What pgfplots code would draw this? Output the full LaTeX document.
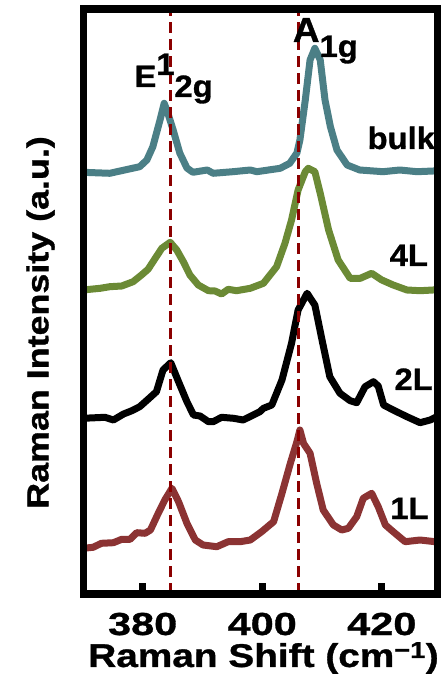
\documentclass[border=0pt]{standalone}
\usepackage{fontspec}
\setmainfont{Liberation Sans}[FakeStretch=1.18, BoldFeatures={FakeBold=1}]
\newfontfamily\annfont{Liberation Sans}[FakeStretch=1.06, BoldFeatures={FakeBold=1}]
\newfontfamily\tickfont{Liberation Sans}[FakeStretch=1.3, BoldFeatures={FakeBold=1}]
\usepackage{pgfplots}
\pgfplotsset{compat=1.18}
\definecolor{cbulk}{HTML}{4B7F86}
\definecolor{cfour}{HTML}{6B8A35}
\definecolor{cone}{HTML}{8B3333}
\definecolor{cdash}{HTML}{8B0000}
\newcommand{\tk}[1]{{\tickfont\fontsize{32}{38}\selectfont\bfseries #1}}
\begin{document}
\begin{tikzpicture}
\begin{axis}[
  scale only axis, width=354.5bp, height=585.2bp,
  xmin=370.1, xmax=429.4, ymin=1, ymax=586.2,
  every axis/.append style={line width=7.5bp},
  axis line style={line width=7.5bp},
  axis on top,
  xtick={380,400,420}, ytick=\empty,
  xticklabels={\tk{380},\tk{400},\tk{420}},
  xtick pos=bottom, tick align=inside,
  major tick length=11bp,
  tick style={black, line width=7bp},
  xticklabel style={anchor=base, yshift=-41bp},
  xlabel={Raman Shift (cm\textsuperscript{−1})},
  ylabel={Raman Intensity (a.u.)},
  xlabel style={font=\fontsize{33}{39}\selectfont\bfseries, at={(axis description cs:0.5078,-0.1247)}, anchor=base},
  ylabel style={font=\fontsize{30.5}{37}\selectfont\bfseries, at={(axis description cs:-0.1213,0.464)}, anchor=center},
  every axis plot/.append style={line width=7bp, line join=round, line cap=round},
]
% bulk
\addplot[cbulk] coordinates {
(370.0,422.7)(374.5,421.7)(375.7,423.3)(379.5,428.3)(380.7,435)(381.7,448.3)(382.9,475)(383.6,491.7)(384.2,482)(385.1,465)(386.2,442)(387.4,427)(388.4,422.7)(390.8,425)(391.8,421.7)(395.1,423.3)(398.0,425)(399.1,423.3)(403.0,426.7)(404.6,431.7)(405.8,442)(406.3,455)(407.2,495)(408.0,535)(408.8,546.7)(409.7,535)(410.5,495)(411.4,468.3)(412.5,445)(414.2,430)(416.3,425)(420.2,423.3)(423.0,425)(425.9,423.3)(429.8,424.3)
};
% 4L
\addplot[cfour] coordinates {
(370.0,305)(372.9,306.7)(374.5,308.3)(376.5,309)(378.4,313.3)(379.8,320)(380.9,325.7)(382.1,336.7)(383.2,346.7)(384.6,352.7)(385.7,345)(386.8,333.3)(387.9,320)(389.3,310)(391.0,304.3)(392.1,304)(393.2,301)(394.3,305.7)(395.7,304.3)(398.0,306.7)(400.2,311.7)(402.4,328.3)(403.8,351.7)(404.9,375)(406.0,405)(407.2,423.3)(407.7,426.7)(408.8,423.3)(409.7,401.7)(411.1,365)(412.7,335)(414.7,316.7)(416.4,316.7)(418.3,321.7)(420.0,315)(421.9,310)(424.2,305)(426.4,304.3)(428.6,305)(429.8,306.7)
};
% 2L
\addplot[black] coordinates {
(370.0,176.7)(373.7,177.7)(375.1,175)(376.8,181)(378.2,184.3)(379.5,188.3)(380.9,195.7)(382.3,203.3)(383.4,225)(384.7,232.3)(386.0,213.3)(387.4,193.3)(388.5,180)(389.6,179)(391.0,173.3)(391.8,173.3)(393.2,177.7)(395.2,176.7)(396.8,175)(398.5,180)(399.6,183.3)(400.2,186.7)(401.6,190)(403.3,215)(404.9,251.7)(406.0,285)(407.5,301.7)(408.8,290)(410.0,255)(411.3,218.3)(413.0,201.7)(414.7,194.3)(415.8,192.3)(417.2,208.3)(418.6,213.3)(419.4,209)(420.3,190)(421.9,185)(424.2,178.3)(426.4,172.3)(428.1,175)(429.8,180)
};
% 1L
\addplot[cone] coordinates {
(370.0,46.7)(371.7,47.7)(373.1,51.7)(375.1,52.3)(376.5,55.7)(377.9,55.7)(379.0,62.3)(380.4,61.7)(381.3,65)(382.6,81.7)(383.7,95)(384.9,106.7)(386.0,93.3)(387.4,71.7)(388.8,55)(390.1,50)(392.4,48.3)(394.3,53.3)(396.3,53.3)(398.0,55)(399.9,63.3)(401.9,73.3)(403.3,101.7)(404.7,131.7)(405.8,153.3)(406.3,165)(406.9,151.7)(408.0,141.7)(409.1,111.7)(410.2,85)(411.9,70)(413.3,65)(414.4,66.7)(415.8,78.3)(416.9,96.7)(418.3,101.7)(419.4,88.3)(420.6,70)(421.9,63.3)(423.9,53.3)(426.4,55)(428.9,53.3)(429.8,56.7)
};
% dashed reference lines
\addplot[cdash, line width=2.8bp, line cap=butt, dash pattern=on 11bp off 6bp] coordinates {(384.7,1)(384.7,586.2)};
\addplot[cdash, line width=2.8bp, line cap=butt, dash pattern=on 11bp off 6bp] coordinates {(406.0,1)(406.0,586.2)};
% labels
\node[anchor=base west, font=\annfont\fontsize{31}{36}\selectfont\bfseries, inner sep=0pt] at (axis cs:417.0,446) {bulk};
\node[anchor=base west, font=\annfont\fontsize{31}{36}\selectfont\bfseries, inner sep=0pt] at (axis cs:420.7,329) {4L};
\node[anchor=base west, font=\annfont\fontsize{31}{36}\selectfont\bfseries, inner sep=0pt] at (axis cs:421.5,205) {2L};
\node[anchor=base west, font=\annfont\fontsize{31}{36}\selectfont\bfseries, inner sep=0pt] at (axis cs:420.8,76) {1L};
\node[anchor=base west, font=\annfont\fontsize{31}{36}\selectfont\bfseries, inner sep=0pt] at (axis cs:378.0,508) {E\raisebox{12bp}{1}\raisebox{-10bp}{2g}};
\node[anchor=base west, font=\annfont\fontsize{31}{36}\selectfont\bfseries, inner sep=0pt] at (axis cs:404.5,553) {{\fontsize{35}{40}\selectfont A}\raisebox{-15bp}{1g}};
\end{axis}
\pgfresetboundingbox
\path ([shift={(-83.5bp,-88bp)}]current axis.south west) rectangle ([shift={(3bp,8.8bp)}]current axis.north east);
\end{tikzpicture}
\end{document}
